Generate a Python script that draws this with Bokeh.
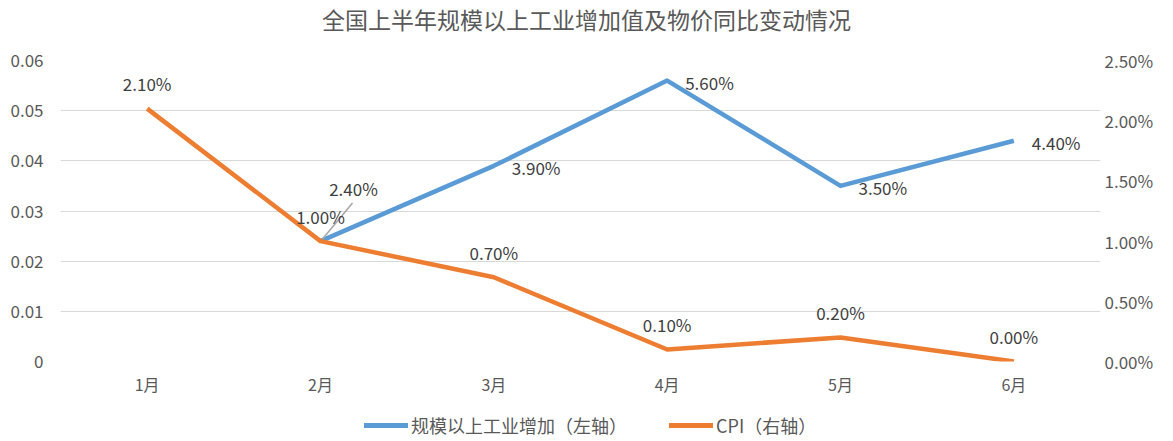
from bokeh.plotting import figure
from bokeh.layouts import column
from bokeh.models import (Range1d, LinearAxis, FixedTicker, CustomJSTickFormatter,
                          NumeralTickFormatter, Legend, LegendItem, ColumnDataSource, Label)
from bokeh.core.properties import value
from bokeh.embed import file_html
from bokeh.resources import INLINE

months = ["1月", "2月", "3月", "4月", "5月", "6月"]
industry_months = ["2月", "3月", "4月", "5月", "6月"]
industry = [0.024, 0.039, 0.056, 0.035, 0.044]
cpi = [0.021, 0.010, 0.007, 0.001, 0.002, 0.000]
left_ticks = [0, 0.01, 0.02, 0.03, 0.04, 0.05, 0.06]
right_ticks = [0, 0.005, 0.01, 0.015, 0.02, 0.025]
series_names = ["规模以上工业增加（左轴）", "CPI（右轴）"]
title_text = "全国上半年规模以上工业增加值及物价同比变动情况"

FONT = "Noto Sans CJK SC"
GREY = "#595959"
LABEL = "#404040"
BLUE = "#5B9BD5"
ORANGE = "#ED7D31"

W = 1165
BL, BR = 60, 65


def strip(height):
    f = figure(width=W, height=height, output_backend="svg", toolbar_location=None,
               x_range=Range1d(0, 1), y_range=Range1d(0, 1),
               x_axis_location=None, y_axis_location=None,
               min_border_left=BL, min_border_right=BR, min_border_top=0, min_border_bottom=0)
    f.outline_line_color = None
    f.xgrid.grid_line_color = None
    f.ygrid.grid_line_color = None
    return f


# ---- title strip
t = strip(36)
t.add_layout(Label(x=526, y=18, x_units="screen", y_units="screen", text=title_text,
                   text_font=FONT, text_font_size="23px", text_color=GREY,
                   text_align="center", text_baseline="middle"))

# ---- main chart
xs = [i + 0.5 for i in range(len(months))]
xs_i = [months.index(m) + 0.5 for m in industry_months]

p = figure(width=W, height=362, output_backend="svg", toolbar_location=None,
           x_range=Range1d(0, len(months)), y_range=Range1d(0, 0.06),
           min_border_left=BL, min_border_right=BR, min_border_top=24, min_border_bottom=37)
p.outline_line_color = None
p.extra_y_ranges = {"right": Range1d(0, 0.025)}

p.xaxis.ticker = FixedTicker(ticks=xs)
p.xaxis.formatter = CustomJSTickFormatter(args=dict(labels=months),
                                          code="return labels[Math.round(tick - 0.5)];")
p.yaxis.ticker = FixedTicker(ticks=left_ticks)
p.yaxis.formatter = CustomJSTickFormatter(code="return tick == 0 ? '0' : tick.toFixed(2);")

raxis = LinearAxis(y_range_name="right", ticker=FixedTicker(ticks=right_ticks),
                   formatter=NumeralTickFormatter(format="0.00%"))
p.add_layout(raxis, "right")

for ax in [p.xaxis[0], p.yaxis[0], raxis]:
    ax.axis_line_color = None
    ax.major_tick_line_color = None
    ax.minor_tick_line_color = None
    ax.major_tick_out = 0
    ax.major_tick_in = 0
    ax.minor_tick_out = 0
    ax.major_label_text_font = FONT
    ax.major_label_text_font_size = "17px"
    ax.major_label_text_color = GREY
p.xaxis.major_label_text_font_size = "16px"
p.xaxis.major_label_standoff = 10
p.yaxis.major_label_standoff = 17
raxis.major_label_standoff = 4

p.xgrid.grid_line_color = None
p.ygrid.grid_line_color = "#D9D9D9"
p.ygrid.grid_line_width = 1

src_i = ColumnDataSource(dict(x=xs_i, y=industry, lab=[f"{v*100:.2f}%" for v in industry]))
src_c = ColumnDataSource(dict(x=xs, y=cpi, lab=[f"{v*100:.2f}%" for v in cpi]))

p.line("x", "y", source=src_i, line_color=BLUE, line_width=4.5, line_join="round")
p.line("x", "y", source=src_c, line_color=ORANGE, line_width=4.5, y_range_name="right",
       line_join="round")

src_il = ColumnDataSource(dict(x=xs_i[1:], y=industry[1:],
                               lab=[f"{v*100:.2f}%" for v in industry[1:]]))
p.text("x", "y", text="lab", source=src_il, x_offset=18, y_offset=2,
       text_font=value(FONT), text_font_size="17px", text_color=LABEL,
       text_align="left", text_baseline="middle")

xpx = 1.0 / (1040 / 6)
ypx = 0.06 / 301.0
fx, fy = xs_i[0], industry[0]
p.segment(x0=[fx + 2 * xpx], y0=[fy + 2 * ypx], x1=[fx + 32 * xpx], y1=[fy + 38 * ypx],
          line_color="#A6A6A6", line_width=1.5)
p.text(x=[fx + 33 * xpx], y=[fy + 53 * ypx], text=[f"{fy*100:.2f}%"],
       text_font=value(FONT), text_font_size="17px", text_color=LABEL,
       text_align="center", text_baseline="middle")

p.text("x", "y", text="lab", source=src_c, y_range_name="right", y_offset=-25,
       text_font=value(FONT), text_font_size="17px", text_color=LABEL,
       text_align="center", text_baseline="middle")

# ---- legend strip
q = strip(40)
nan = float("nan")
g1 = q.line(x=[nan, nan], y=[nan, nan], line_color=BLUE, line_width=5, line_cap="round")
g2 = q.line(x=[nan, nan], y=[nan, nan], line_color=ORANGE, line_width=5, line_cap="round")
legend = Legend(items=[LegendItem(label=series_names[0], renderers=[g1]),
                       LegendItem(label=series_names[1], renderers=[g2])],
                orientation="horizontal", location=(304, 0),
                label_text_font=FONT, label_text_font_size="18px", label_text_color=GREY,
                glyph_width=44, glyph_height=16, spacing=42, label_standoff=3,
                border_line_color=None, background_fill_alpha=0, padding=0, margin=0)
q.add_layout(legend, "center")

open("out.html", "w").write(file_html(column(t, p, q, spacing=0), INLINE))
